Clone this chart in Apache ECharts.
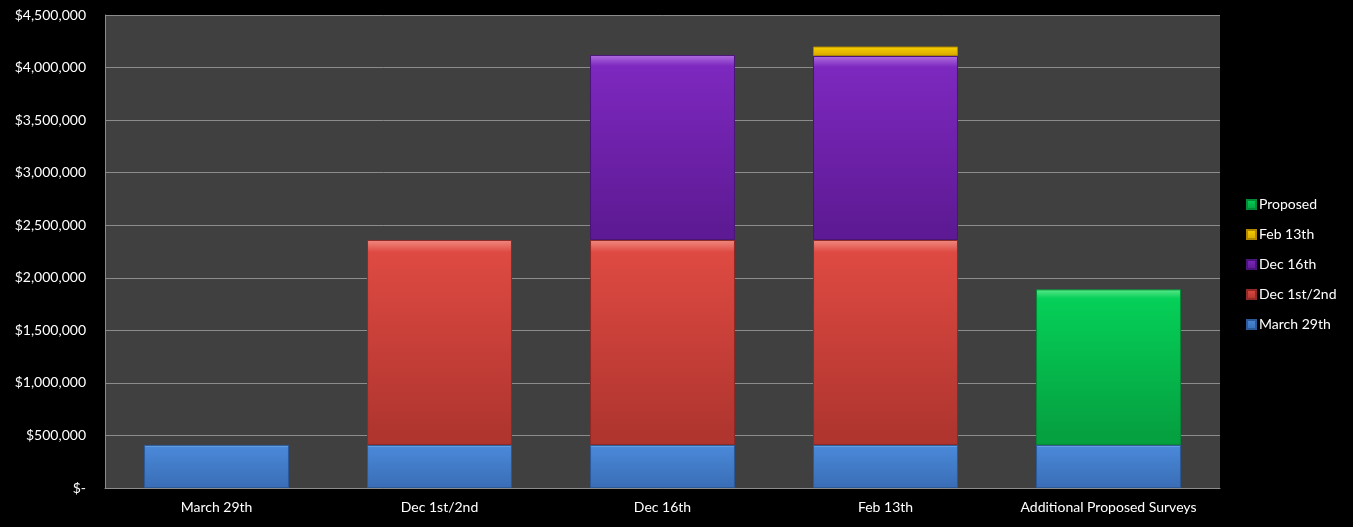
<!DOCTYPE html>
<html>
<head>
<meta charset="utf-8">
<script src="https://cdn.jsdelivr.net/npm/echarts@6/dist/echarts.min.js"></script>
<style>
  html, body { margin: 0; padding: 0; background: #000; }
  #chart { width: 1353px; height: 527px; }
</style>
</head>
<body>
<div id="chart"></div>
<script>
// data
var categories = ['March 29th', 'Dec 1st/2nd', 'Dec 16th', 'Feb 13th', 'Additional Proposed Surveys'];
var march29 = [410000, 410000, 410000, 410000, 410000];
var dec1st2nd = [0, 1950000, 1950000, 1950000, 0];
var dec16th = [0, 0, 1760000, 1750000, 0];
var feb13th = [0, 0, 0, 90000, 0];
var proposed = [0, 0, 0, 0, 1480000];
var legendOrder = ['Proposed', 'Feb 13th', 'Dec 16th', 'Dec 1st/2nd', 'March 29th'];

var font = 'Lato, "Open Sans", sans-serif';

function grad(top, mid, bottom) {
	return new echarts.graphic.LinearGradient(0, 0, 0, 1, [
		{ offset: 0, color: top },
		{ offset: 0.06, color: mid },
		{ offset: 0.94, color: bottom },
		{ offset: 1, color: bottom }
	]);
}

function fmtMoney(v) {
	if (v === 0) return '$-';
	return '$' + v.toString().replace(/\B(?=(\d{3})+(?!\d))/g, ',');
}

function makeSeries(name, data, colors) {
	return {
		name: name,
		type: 'bar',
		stack: 'total',
		barWidth: '65%',
		data: data.map(function (v) { return v === 0 ? null : v; }),
		itemStyle: {
			color: grad(colors[0], colors[1], colors[2]),
			borderColor: colors[3],
			borderWidth: 1
		}
	};
}

var chart = echarts.init(document.getElementById('chart'));
chart.setOption({
	backgroundColor: '#000000',
	animation: false,
	grid: {
		left: 105,
		right: 133,
		top: 15,
		bottom: 39,
		show: true,
		backgroundColor: '#404040',
		borderWidth: 0
	},
	legend: {
		orient: 'vertical',
		left: 1241,
		top: 192,
		data: legendOrder,
		itemWidth: 9,
		itemHeight: 9,
		itemGap: 15,
		icon: 'rect',
		textStyle: { color: '#ffffff', fontFamily: font, fontSize: 14, lineHeight: 15, padding: [0, 0, 0, -2] }
	},
	xAxis: {
		type: 'category',
		data: categories,
		axisLine: { lineStyle: { color: '#8c8c8c' } },
		axisTick: { show: false },
		axisLabel: { color: '#ffffff', fontFamily: font, fontSize: 14, margin: 12, interval: 0 }
	},
	yAxis: {
		type: 'value',
		min: 0,
		max: 4500000,
		interval: 500000,
		axisLine: { show: true, lineStyle: { color: '#8c8c8c' } },
		splitLine: { lineStyle: { color: '#8c8c8c', width: 1 } },
		axisLabel: { color: '#ffffff', fontFamily: font, fontSize: 14, margin: 19, formatter: fmtMoney }
	},
	series: [
		makeSeries('March 29th', march29, ['#8dbaf0', '#4a88d8', '#3a6fb8', '#2c5a99']),
		makeSeries('Dec 1st/2nd', dec1st2nd, ['#f08a80', '#de4a42', '#b0352f', '#8f2a26']),
		makeSeries('Dec 16th', dec16th, ['#b070e0', '#7d28bf', '#5e1a94', '#4a1578']),
		makeSeries('Feb 13th', feb13th, ['#ffe65a', '#f7d000', '#d9a800', '#b08800']),
		makeSeries('Proposed', proposed, ['#5ae88a', '#05d058', '#05a040', '#048a36'])
	]
});
</script>
</body>
</html>
